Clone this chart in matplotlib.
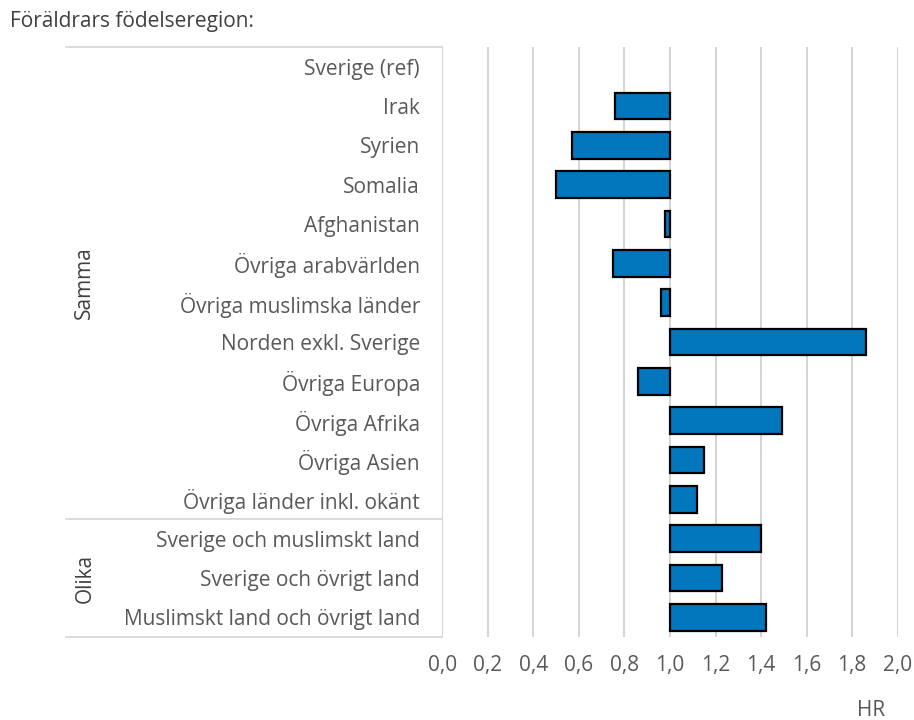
import numpy as np
import matplotlib
matplotlib.use('Agg')
import matplotlib.pyplot as plt
import matplotlib.transforms as mtransforms

plt.rcParams['font.family'] = ['Open Sans', 'DejaVu Sans']

# categories, top to bottom
regions = ['Sverige (ref)', 'Irak', 'Syrien', 'Somalia', 'Afghanistan',
           'Övriga arabvärlden', 'Övriga muslimska länder', 'Norden exkl. Sverige',
           'Övriga Europa', 'Övriga Afrika', 'Övriga Asien', 'Övriga länder inkl. okänt',
           'Sverige och muslimskt land', 'Sverige och övrigt land',
           'Muslimskt land och övrigt land']
hr = [1.00, 0.76, 0.57, 0.50, 0.98, 0.75, 0.96, 1.86, 0.86, 1.49, 1.15, 1.12,
      1.40, 1.23, 1.42]
groups = ['Samma', 'Olika']
group_sizes = [12, 3]
xticks = [0.0, 0.2, 0.4, 0.6, 0.8, 1.0, 1.2, 1.4, 1.6, 1.8, 2.0]

txt_col = '#595959'
line_col = '#d4d4d4'
fs = 15

fig = plt.figure(figsize=(9.14, 7.2), dpi=100)
ax = fig.add_axes([0.4839, 0.1153, 0.4983, 0.8194])

y = np.arange(len(regions))
vals = np.array(hr)
# the reference row (HR = 1) gets no bar
keep = vals != 1.0
ax.barh(y[keep], vals[keep] - 1.0, left=1.0, height=0.68, color='#0277bd',
        edgecolor='black', linewidth=1.6, zorder=3)

ax.set_xlim(0, 2.0)
ax.set_ylim(len(regions) - 0.5, -0.5)
ax.set_xticks(xticks)
ax.set_xticklabels([('%.1f' % t).replace('.', ',') for t in xticks],
                   fontsize=fs, color=txt_col)
ax.tick_params(axis='x', length=0, pad=13)
ax.set_yticks(y)
ax.set_yticklabels(regions, fontsize=fs, color=txt_col)
ax.tick_params(axis='y', length=0, pad=16)
for s in ax.spines.values():
    s.set_visible(False)
ax.grid(axis='x', color=line_col, linewidth=1.4, zorder=0)

# box around category labels
trans = mtransforms.blended_transform_factory(ax.transAxes, ax.transData)
x0 = -0.826
for yy in [-0.5, group_sizes[0] - 0.5, len(regions) - 0.5]:
    ax.plot([x0, 0], [yy, yy], color=line_col, linewidth=1.2,
            transform=trans, clip_on=False)

# group labels
start = 0
for g, n in zip(groups, group_sizes):
    ax.text(-0.785, start + (n - 1) / 2.0, g, transform=trans, rotation=90,
            ha='center', va='center', fontsize=fs, color='#404040')
    start += n

fig.text(10 / 914, 1 - 22 / 720, 'Föräldrars födelseregion:', fontsize=fs,
         color='#404040', ha='left', va='center')
fig.text(871 / 914, 1 - 711 / 720, 'HR', fontsize=fs, color=txt_col,
         ha='center', va='center')

fig.savefig('out.png', dpi=100)
